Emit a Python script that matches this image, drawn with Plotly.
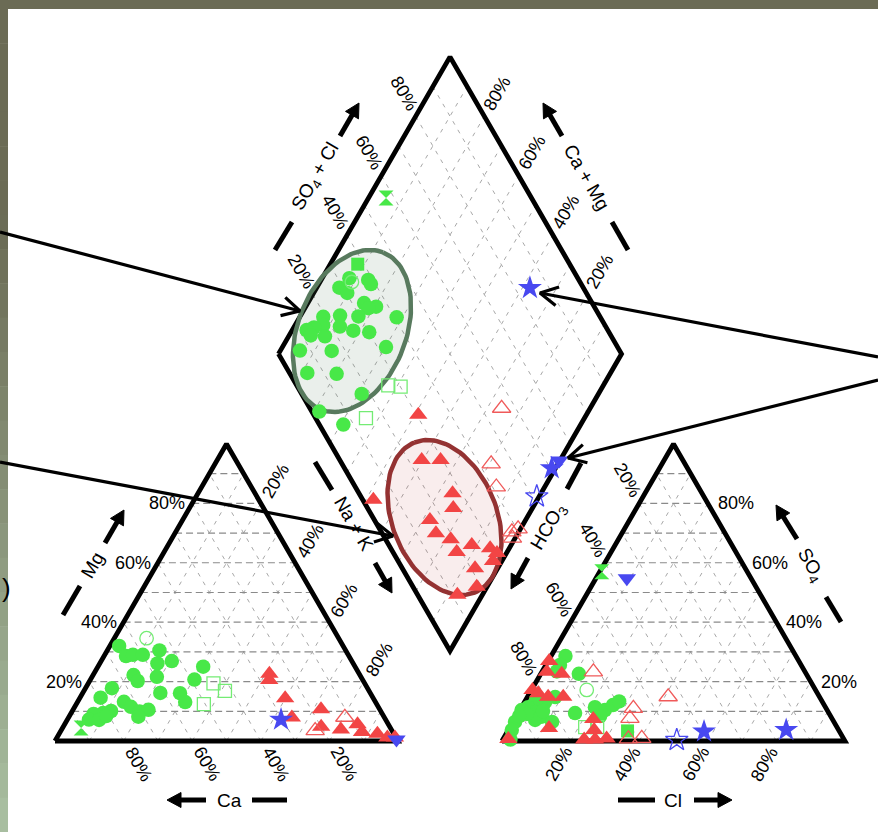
import math
import plotly.graph_objects as go

# ------------------------------------------------------------------
# Sample compositions (percent of meq/L)
# ------------------------------------------------------------------
# Cation triangle: Mg and Na+K (Ca is the remainder)
cat_green_mg = [32.0, 28.6, 29.0, 29.0, 30.5, 26.9, 26.1, 25.0, 22.2, 20.2, 21.6, 20.7, 17.8, 14.6,
                16.2, 16.1, 13.1, 13.2, 11.5, 9.9, 10.5, 10.1, 9.4, 9.1, 7.2, 7.1, 8.4, 8.2]
cat_green_nak = [2.7, 6.4, 8.2, 11.1, 15.2, 20.6, 16.8, 30.7, 11.8, 14.0, 18.9, 30.3, 7.7, 6.0,
                 22.6, 28.4, 31.4, 13.5, 16.4, 19.7, 22.0, 11.3, 9.3, 6.7, 6.3, 9.3, 10.7, 20.2]
cat_green_open_mg = [34.6]
cat_green_open_nak = [9.4]
cat_green_sq_open_mg = [19.4, 16.9, 12.4]
cat_green_sq_open_nak = [36.5, 41.1, 37.2]
cat_green_hg_mg = [4.4]
cat_green_hg_nak = [5.4]
cat_red_mg = [22.6, 20.5, 14.4, 7.9, 10.7, 4.8, 3.9, 5.6, 3.0, 2.4, 1.2, 1.2]
cat_red_nak = [51.2, 52.2, 59.9, 65.1, 72.2, 75.2, 81.4, 85.4, 88.0, 92.8, 96.3, 98.5]
cat_red_open_mg = [8.0, 3.5]
cat_red_open_nak = [80.5, 74.1]
cat_blue_star_mg = [7.2]
cat_blue_star_nak = [62.3]
cat_blue_down_mg = [0.5]
cat_blue_down_nak = [99.3]

# Anion triangle: SO4 and Cl (HCO3 is the remainder)
an_green_so4 = [28.6, 25.6, 23.4, 22.6, 14.8, 13.1, 13.8, 11.4, 9.8, 10.4, 8.2, 7.1, 6.4, 3.7, 0.5,
                6.4, 9.4, 11.4, 10.4, 12.1, 13.3, 8.4, 9.1, 10.1, 8.4]
an_green_cl = [4.2, 4.1, 4.3, 11.1, 8.1, 6.0, 3.0, 1.9, 4.7, 0.5, 7.5, 6.1, 0.6, 1.0, 2.2,
               11.4, 16.6, 21.4, 24.8, 26.3, 27.5, 24.4, 2.7, 6.9, 0.8]
an_green_open_so4 = [17.2]
an_green_open_cl = [16.1]
an_green_sq_open_so4 = [4.7, 4.7]
an_green_sq_open_cl = [21.9, 25.4]
an_green_sq_so4 = [3.4]
an_green_sq_cl = [34.9]
an_green_hg_so4 = [57.0]
an_green_hg_cl = [0.6]
an_red_so4 = [26.9, 23.3, 22.6, 17.2, 16.1, 14.9, 14.9, 4.4, 7.4, 3.7, 0.5, 0.5, 0.8, 0.7]
an_red_cl = [0.3, 1.4, 6.1, 0.3, 2.5, 6.0, 10.4, 11.5, 22.9, 25.0, 23.7, 26.9, 30.1, 1.5]
an_red_open_so4 = [23.3, 14.9, 11.0, 7.6, 0.7, 0.9]
an_red_open_cl = [15.0, 41.0, 32.8, 33.5, 36.5, 40.3]
an_blue_star_so4 = [3.2, 3.7]
an_blue_star_cl = [57.3, 81.0]
an_blue_star_open_so4 = [0.3]
an_blue_star_open_cl = [50.8]
an_blue_down_so4 = [54.8]
an_blue_down_cl = [9.0]

# Central diamond: Na+K and SO4+Cl
dm_green_nak = [7.9, 13.7, 15.2, 6.6, 9.8, 16.4, 20.5, 18.5, 17.0, 11.5, 6.8, 28.3, 13.3, 8.2,
                5.9, 4.2, 6.3, 10.6, 17.9, 22.8, 5.7, 15.0, 30.2, 11.6, 20.3, 31.0, 21.6, 30.8]
dm_green_sc = [33.4, 38.6, 38.7, 28.9, 30.3, 33.5, 36.4, 33.9, 29.6, 24.4, 19.3, 40.6, 22.5, 17.9,
               14.8, 12.2, 12.5, 16.5, 25.7, 30.1, 6.8, 16.0, 32.5, 5.2, 13.6, 17.5, 2.2, 7.0]
dm_green_open_nak = [9.3]
dm_green_open_sc = [33.5]
dm_green_sq_open_nak = [37.3, 41.1, 36.3]
dm_green_sq_open_sc = [26.7, 30.1, 14.7]
dm_green_sq_nak = [8.0]
dm_green_sq_sc = [38.2]
dm_green_hg_nak = [5.1]
dm_green_hg_sc = [57.6]
dm_red_nak = [59.6, 65.1, 74.2, 76.9, 72.1, 76.1, 81.4, 85.3, 88.5, 94.4, 97.4, 93.4, 97.0, 92.7,
              52.2, 51.0, 97.2]
dm_red_sc = [23.9, 29.4, 27.3, 25.0, 16.2, 15.7, 19.0, 18.6, 24.2, 29.0, 27.7, 21.2, 18.6, 11.6,
             3.1, 30.5, 30.2]
dm_red_open_nak = [74.2, 80.5, 85.9, 98.0, 99.3, 99.2]
dm_red_open_sc = [55.9, 43.5, 41.1, 38.1, 40.4, 37.2]
dm_blue_star_nak = [62.2, 98.9]
dm_blue_star_sc = [84.4, 60.4]
dm_blue_star_open_nak = [99.3]
dm_blue_star_open_sc = [51.3]
dm_blue_down_nak = [99.8]
dm_blue_down_sc = [63.9]

tick_vals = [20, 40, 60, 80]
tick_text = ["20%", "40%", "60%", "80%"]

# ------------------------------------------------------------------
# Layout geometry of the Piper plot (screen units, y grows downward)
# ------------------------------------------------------------------
W, H = 878, 832
SIDE = 343.0
HGT = SIDE * math.sqrt(3) / 2
BASE_Y = 741.0
LT_X0 = 55.0
RT_X0 = 502.0
DM_X = (LT_X0 + SIDE + RT_X0) / 2
DM_Y = BASE_Y - (RT_X0 - LT_X0 - SIDE) * math.sqrt(3) / 2


def cat_xy(mg, nak):
    return LT_X0 + SIDE * (nak + mg / 2) / 100, BASE_Y - HGT * mg / 100


def an_xy(so4, cl):
    return RT_X0 + SIDE * (cl + so4 / 2) / 100, BASE_Y - HGT * so4 / 100


def dm_xy(nak, sc):
    cm = 1 - nak / 100
    a = sc / 100
    return DM_X + SIDE / 2 * (a - cm), DM_Y - HGT * (a + cm)


def pts(fn, a, b):
    xy = [fn(p, q) for p, q in zip(a, b)]
    return [p[0] for p in xy], [p[1] for p in xy]


FONT = "Liberation Sans, Arial, sans-serif"
GREEN = "#48e848"
GREEN_OPEN = "#74ec74"
RED = "#f24545"
RED_OPEN = "#f05a5a"
BLUE = "#4848f0"

fig = go.Figure()


def add_segments(segs, color, width, dash):
    xs, ys = [], []
    for (x0, y0), (x1, y1) in segs:
        xs += [x0, x1, None]
        ys += [y0, y1, None]
    fig.add_trace(go.Scatter(x=xs, y=ys, mode="lines", hoverinfo="skip",
                             line=dict(color=color, width=width, dash=dash)))


# ---- grid ----
horiz, oblique = [], []
for k in range(10, 100, 10):
    horiz.append((cat_xy(k, 0), cat_xy(k, 100 - k)))
    oblique.append((cat_xy(0, k), cat_xy(100 - k, k)))
    oblique.append((cat_xy(0, 100 - k), cat_xy(100 - k, 0)))
    horiz.append((an_xy(k, 0), an_xy(k, 100 - k)))
    oblique.append((an_xy(0, k), an_xy(100 - k, k)))
    oblique.append((an_xy(0, 100 - k), an_xy(100 - k, 0)))
    oblique.append((dm_xy(0, k), dm_xy(100, k)))
    oblique.append((dm_xy(k, 0), dm_xy(k, 100)))
add_segments(oblique, "#a8a8a8", 1, "4px,6px")
add_segments(horiz, "#8a8a8a", 1.2, "7px,4px")

# ---- frames ----
frames = [
    [cat_xy(0, 0), cat_xy(100, 0), cat_xy(0, 100), cat_xy(0, 0)],
    [an_xy(0, 0), an_xy(100, 0), an_xy(0, 100), an_xy(0, 0)],
    [dm_xy(0, 0), dm_xy(0, 100), dm_xy(100, 100), dm_xy(100, 0), dm_xy(0, 0)],
]
for poly in frames:
    fig.add_trace(go.Scatter(x=[p[0] for p in poly], y=[p[1] for p in poly], mode="lines",
                             hoverinfo="skip", line=dict(color="black", width=4.8)))


# ---- highlighted groups in the diamond ----
def ellipse(cx, cy, a, b, tilt_deg, fill, edge):
    t = math.radians(tilt_deg)
    ux, uy = math.sin(t), -math.cos(t)
    vx, vy = math.cos(t), math.sin(t)
    xs, ys = [], []
    for i in range(121):
        s = 2 * math.pi * i / 120
        xs.append(cx + a * math.cos(s) * ux + b * math.sin(s) * vx)
        ys.append(cy + a * math.cos(s) * uy + b * math.sin(s) * vy)
    fig.add_trace(go.Scatter(x=xs, y=ys, mode="lines", fill="toself", fillcolor=fill,
                             hoverinfo="skip", line=dict(color=edge, width=4.5)))


ellipse(352, 331, 84.5, 54, 21.6, "rgba(90,130,100,0.13)", "#587a5e")
ellipse(444.5, 517.5, 80.8, 52.2, -21.8, "rgba(190,60,60,0.09)", "#943232")


# ---- sample markers ----
def add_marks(fn, a, b, symbol, color, size, open_=False):
    xs, ys = pts(fn, a, b)
    if open_:
        mk = dict(symbol=symbol, size=size, color=color, line=dict(color=color, width=1.3))
    else:
        mk = dict(symbol=symbol, size=size, color=color, line=dict(width=0))
    fig.add_trace(go.Scatter(x=xs, y=ys, mode="markers", marker=mk, hoverinfo="skip"))


CIRC, TRI, SQ, STAR, HG = 14.5, 16, 13, 18, 15
for fn, groups in [
    (cat_xy, [
        (cat_green_mg, cat_green_nak, "circle", GREEN, CIRC, False),
        (cat_green_open_mg, cat_green_open_nak, "circle-open", GREEN_OPEN, CIRC - 1, True),
        (cat_green_sq_open_mg, cat_green_sq_open_nak, "square-open", GREEN_OPEN, SQ, True),
        (cat_green_hg_mg, cat_green_hg_nak, "hourglass", GREEN, HG, False),
        (cat_red_mg, cat_red_nak, "triangle-up", RED, TRI, False),
        (cat_red_open_mg, cat_red_open_nak, "triangle-up-open", RED_OPEN, TRI, True),
        (cat_blue_star_mg, cat_blue_star_nak, "star", BLUE, STAR, False),
        (cat_blue_down_mg, cat_blue_down_nak, "triangle-down", BLUE, TRI, False),
    ]),
    (an_xy, [
        (an_green_so4, an_green_cl, "circle", GREEN, CIRC, False),
        (an_green_open_so4, an_green_open_cl, "circle-open", GREEN_OPEN, CIRC - 1, True),
        (an_green_sq_open_so4, an_green_sq_open_cl, "square-open", GREEN_OPEN, SQ, True),
        (an_green_sq_so4, an_green_sq_cl, "square", GREEN, SQ, False),
        (an_green_hg_so4, an_green_hg_cl, "hourglass", GREEN, HG, False),
        (an_red_so4, an_red_cl, "triangle-up", RED, TRI, False),
        (an_red_open_so4, an_red_open_cl, "triangle-up-open", RED_OPEN, TRI, True),
        (an_blue_star_open_so4, an_blue_star_open_cl, "star-open", BLUE, STAR - 1, True),
        (an_blue_star_so4, an_blue_star_cl, "star", BLUE, STAR, False),
        (an_blue_down_so4, an_blue_down_cl, "triangle-down", BLUE, TRI, False),
    ]),
    (dm_xy, [
        (dm_green_nak, dm_green_sc, "circle", GREEN, CIRC, False),
        (dm_green_open_nak, dm_green_open_sc, "circle-open", GREEN_OPEN, CIRC - 1, True),
        (dm_green_sq_open_nak, dm_green_sq_open_sc, "square-open", GREEN_OPEN, SQ, True),
        (dm_green_sq_nak, dm_green_sq_sc, "square", GREEN, SQ, False),
        (dm_green_hg_nak, dm_green_hg_sc, "hourglass", GREEN, HG, False),
        (dm_red_nak, dm_red_sc, "triangle-up", RED, TRI, False),
        (dm_red_open_nak, dm_red_open_sc, "triangle-up-open", RED_OPEN, TRI, True),
        (dm_blue_star_open_nak, dm_blue_star_open_sc, "star-open", BLUE, STAR - 1, True),
        (dm_blue_star_nak, dm_blue_star_sc, "star", BLUE, STAR, False),
        (dm_blue_down_nak, dm_blue_down_sc, "triangle-down", BLUE, TRI, False),
    ]),
]:
    for a, b, sym, col, sz, op in groups:
        add_marks(fn, a, b, sym, col, sz, op)


# ---- axis titles with direction arrows ----
def solid_arrow(tail, tip, width=5, head_len=14, head_w=7.5):
    dx, dy = tip[0] - tail[0], tip[1] - tail[1]
    L = math.hypot(dx, dy)
    ux, uy = dx / L, dy / L
    bx, by = tip[0] - ux * head_len, tip[1] - uy * head_len
    fig.add_trace(go.Scatter(x=[tail[0], bx + ux * 2], y=[tail[1], by + uy * 2], mode="lines",
                             hoverinfo="skip", line=dict(color="black", width=width)))
    px, py = -uy, ux
    fig.add_trace(go.Scatter(
        x=[tip[0], bx + px * head_w, bx - px * head_w, tip[0]],
        y=[tip[1], by + py * head_w, by - py * head_w, tip[1]],
        mode="lines", fill="toself", fillcolor="black", hoverinfo="skip",
        line=dict(color="black", width=1)))


def dash_bar(p0, p1, width=5):
    fig.add_trace(go.Scatter(x=[p0[0], p1[0]], y=[p0[1], p1[1]], mode="lines",
                             hoverinfo="skip", line=dict(color="black", width=width)))


annotations = []


def label(x, y, text, angle=0, size=18, xanchor="center"):
    annotations.append(dict(x=x, y=y, xref="x", yref="y", text=text, showarrow=False,
                            textangle=angle, xanchor=xanchor, yanchor="middle",
                            font=dict(family=FONT, size=size, color="black")))


axis_titles = [
    # text, text position, angle, dash ends, arrow tail, arrow tip
    ("Mg", (92, 565), -60, ((63, 615), (80, 586)), (105, 543), (124, 510)),
    ("Ca", (229, 800), 0, ((252, 800), (287, 800)), (206, 800), (167, 800)),
    ("Cl", (673, 800), 0, ((618, 800), (655, 800)), (694, 800), (732, 800)),
    ("SO<sub>4</sub>", (810, 565), 60, ((826, 597), (841, 622)), (797, 539), (776, 505)),
    ("SO<sub>4</sub> + Cl", (316, 177), -60, ((275, 250), (292, 222)), (340, 136), (359, 103)),
    ("Ca + Mg", (587, 177), 60, ((612, 222), (628, 250)), (562, 136), (543, 103)),
    ("Na + K", (354, 523), 60, ((315, 462), (332, 490)), (375, 563), (392, 593)),
    ("HCO<sub>3</sub>", (549, 527), -60, ((581, 463), (567, 489)), (528, 558), (511, 589)),
]
for text, pos, ang, dsh, tail, tip in axis_titles:
    dash_bar(*dsh)
    solid_arrow(tail, tip)
    label(pos[0], pos[1], text, ang, size=19)

# ---- tick labels ----
for v, t in zip(tick_vals, tick_text):
    x, y = cat_xy(v, 0)
    label(x - 5, y, t, 0, xanchor="right")
    x, y = cat_xy(0, 100 - v)
    label(x + 15, y + 23, t, 60)
    x, y = cat_xy(100 - v, v)
    label(x + 15, y - 22, t, -60)
    x, y = an_xy(v, 100 - v)
    label(x + 8, y, t, 0, xanchor="left")
    x, y = an_xy(0, v)
    label(x - 12, y + 23, t, -60)
    x, y = an_xy(100 - v, 0)
    label(x - 12, y - 23, t, 60)
    x, y = dm_xy(0, v)
    label(x - 12, y - 23, t, 60)
    x, y = dm_xy(100 - v, 100)
    label(x + 13, y - 23, t, -60)


# ---- call-out arrows ----
def callout(start, tip, arm=20, spread=28):
    fig.add_trace(go.Scatter(x=[start[0], tip[0]], y=[start[1], tip[1]], mode="lines",
                             hoverinfo="skip", line=dict(color="black", width=3.2)))
    ang = math.atan2(start[1] - tip[1], start[0] - tip[0])
    xs, ys = [], []
    for s in (-1, 1):
        a = ang + s * math.radians(spread)
        xs += [tip[0] + arm * math.cos(a), tip[0]]
        ys += [tip[1] + arm * math.sin(a), tip[1]]
    fig.add_trace(go.Scatter(x=[xs[0], xs[1], xs[2]], y=[ys[0], ys[1], ys[2]], mode="lines",
                             hoverinfo="skip", line=dict(color="black", width=3.2)))


callout((0, 232), (300, 311))
callout((0, 462), (393, 536))
callout((878, 357), (540, 293))
callout((878, 380), (568, 458))

# stray glyph from the neighbouring slide text at the left edge
annotations.append(dict(x=6, y=588, xref="x", yref="y", text=")", showarrow=False,
                        font=dict(family=FONT, size=26, color="black")))

# ---- slide border (top band and left strip) ----
shapes = [dict(type="rect", xref="x", yref="y", x0=0, x1=W, y0=0, y1=9,
               fillcolor="#6b6b55", line=dict(width=0), layer="below")]
top_c = (107, 107, 85)
bot_c = (168, 190, 160)
n = 24
for i in range(n):
    y0 = 9 + (H - 9) * i / n
    y1 = 9 + (H - 9) * (i + 1) / n
    f = max(0.0, (i / (n - 1) - 0.25) / 0.75)
    c = tuple(int(top_c[j] + (bot_c[j] - top_c[j]) * f) for j in range(3))
    shapes.append(dict(type="rect", xref="x", yref="y", x0=0, x1=8, y0=y0, y1=y1 + 0.5,
                       fillcolor="rgb(%d,%d,%d)" % c, line=dict(width=0), layer="below"))

fig.update_layout(
    width=W, height=H, autosize=False,
    margin=dict(l=0, r=0, t=0, b=0),
    paper_bgcolor="white", plot_bgcolor="white",
    showlegend=False,
    xaxis=dict(range=[0, W], visible=False, fixedrange=True),
    yaxis=dict(range=[H, 0], visible=False, fixedrange=True),
    annotations=annotations,
    shapes=shapes,
)

fig.write_html("out.html")
